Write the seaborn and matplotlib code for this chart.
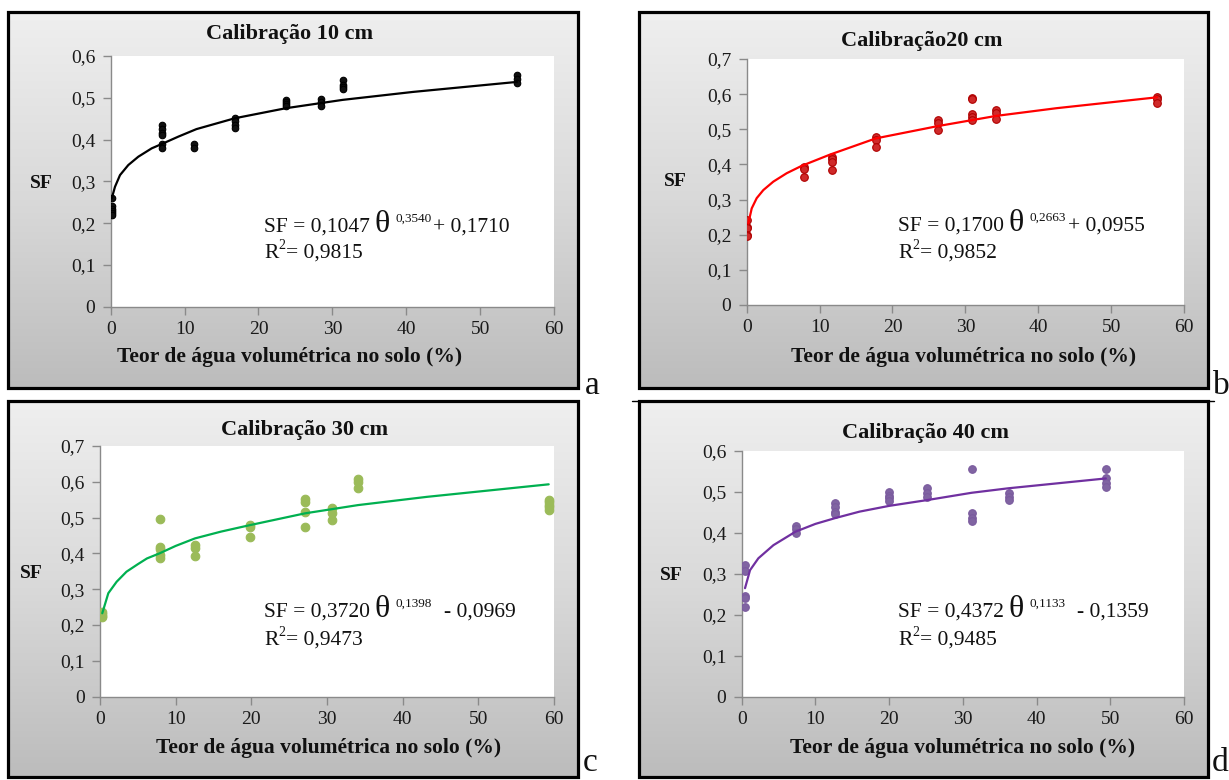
import numpy as np
import pandas as pd
import matplotlib
matplotlib.use("Agg")
import matplotlib.pyplot as plt
import seaborn as sns
from matplotlib.patches import Rectangle
from matplotlib.lines import Line2D
from matplotlib.colors import LinearSegmentedColormap
from matplotlib.ticker import FuncFormatter, MultipleLocator

# ---------------- data ----------------
theta_10 = [0.2, 0.2, 0.2, 0.2, 0.2, 0.2,
            7.0, 7.0, 7.0, 7.0, 7.0, 7.0,
            11.3, 11.3,
            16.8, 16.8, 16.8, 16.8,
            23.7, 23.7, 23.7, 23.7,
            28.4, 28.4, 28.4,
            31.4, 31.4, 31.4, 31.4,
            55.0, 55.0, 55.0]
sf_10 = [0.26, 0.24, 0.235, 0.23, 0.225, 0.22,
         0.435, 0.425, 0.415, 0.41, 0.39, 0.38,
         0.39, 0.38,
         0.452, 0.445, 0.435, 0.428,
         0.495, 0.49, 0.485, 0.48,
         0.498, 0.49, 0.48,
         0.542, 0.53, 0.525, 0.52,
         0.555, 0.545, 0.535]
fit_theta_10 = [0.14, 0.58, 1.26, 2.38, 3.74, 5.55, 7.12, 9.15, 11.6, 16.8, 23.7, 31.4, 40.9, 55.0]
fit_sf_10 = [0.259, 0.287, 0.315, 0.339, 0.359, 0.379, 0.391, 0.407, 0.425, 0.451, 0.475, 0.495, 0.514, 0.538]

theta_20 = [0.1, 0.1, 0.1, 0.1, 0.1,
            7.8, 7.8, 7.8,
            11.7, 11.7, 11.7, 11.7,
            17.7, 17.7, 17.7,
            26.2, 26.2, 26.2,
            30.9, 30.9, 30.9, 30.9, 30.9,
            34.2, 34.2, 34.2,
            56.3, 56.3, 56.3]
sf_20 = [0.242, 0.223, 0.218, 0.2, 0.196,
         0.394, 0.388, 0.365,
         0.42, 0.415, 0.408, 0.384,
         0.479, 0.47, 0.45,
         0.526, 0.519, 0.498,
         0.588, 0.585, 0.544, 0.535, 0.526,
         0.555, 0.546, 0.529,
         0.591, 0.585, 0.574]
fit_theta_20 = [0.22, 0.69, 1.37, 2.28, 3.65, 5.49, 7.55, 11.43, 17.7, 26.2, 34.2, 42.5, 56.3]
fit_sf_20 = [0.232, 0.275, 0.304, 0.327, 0.351, 0.375, 0.396, 0.428, 0.474, 0.509, 0.538, 0.56, 0.591]

theta_30 = [0.3, 0.3, 0.3, 0.3,
            7.9, 7.9, 7.9, 7.9, 7.9,
            12.6, 12.6, 12.6,
            19.8, 19.8, 19.8,
            27.1, 27.1, 27.1, 27.1,
            30.7, 30.7, 30.7,
            34.1, 34.1, 34.1,
            59.3, 59.3, 59.3, 59.3, 59.3]
sf_30 = [0.237, 0.23, 0.225, 0.222,
         0.496, 0.419, 0.412, 0.396, 0.386,
         0.424, 0.414, 0.394,
         0.479, 0.473, 0.447,
         0.552, 0.545, 0.517, 0.475,
         0.526, 0.512, 0.494,
         0.608, 0.6, 0.582,
         0.549, 0.545, 0.535, 0.53, 0.521]
fit_theta_30 = [0.3, 1.1, 2.2, 3.5, 5.0, 6.2, 7.84, 10.0, 12.55, 16.0, 19.8, 27.1, 34.1, 43.2, 59.3]
fit_sf_30 = [0.233, 0.289, 0.321, 0.349, 0.370, 0.386, 0.400, 0.421, 0.442, 0.461, 0.479, 0.512, 0.535, 0.558, 0.593]

theta_40 = [0.5, 0.5, 0.5, 0.5, 0.5,
            7.3, 7.3, 7.3,
            12.7, 12.7, 12.7, 12.7,
            20.0, 20.0, 20.0, 20.0,
            25.1, 25.1, 25.1,
            31.2, 31.2, 31.2, 31.2,
            36.2, 36.2, 36.2,
            49.4, 49.4, 49.4, 49.4]
sf_40 = [0.322, 0.308, 0.247, 0.24, 0.22,
         0.417, 0.409, 0.399,
         0.472, 0.464, 0.452, 0.445,
         0.499, 0.491, 0.485, 0.479,
         0.509, 0.498, 0.488,
         0.556, 0.448, 0.436, 0.43,
         0.497, 0.488, 0.48,
         0.556, 0.533, 0.523, 0.511]
fit_theta_40 = [0.45, 1.13, 2.26, 4.3, 7.3, 10.0, 12.65, 16.0, 20.0, 25.1, 31.2, 36.2, 49.4]
fit_sf_40 = [0.265, 0.309, 0.338, 0.370, 0.403, 0.422, 0.436, 0.452, 0.466, 0.480, 0.498, 0.509, 0.533]

titles = ["Calibração 10 cm", "Calibração20 cm", "Calibração 30 cm", "Calibração 40 cm"]
eq_coef = ["0,1047", "0,1700", "0,3720", "0,4372"]
eq_exp = ["0,3540", "0,2663", "0,1398", "0,1133"]
eq_const = ["+ 0,1710", "+ 0,0955", "- 0,0969", "- 0,1359"]
r2_values = ["0,9815", "0,9852", "0,9473", "0,9485"]
panel_letters = ["a", "b", "c", "d"]
y_max = [0.6, 0.7, 0.7, 0.6]
xlabel = "Teor de água volumétrica no solo (%)"
ylabel = "SF"

# ---------------- styling ----------------
sns.set_theme(style="white")
plt.rcParams["font.family"] = ["Liberation Serif", "DejaVu Serif"]

W, H = 1229, 780
fig = plt.figure(figsize=(W / 100, H / 100), dpi=100)
fig.patch.set_facecolor("white")


def fx(x):
    return x / W


def fy(y):
    return 1 - y / H


def rect(l, t, r, b):
    return [fx(l), fy(b), fx(r) - fx(l), fy(t) - fy(b)]


panels = [
    dict(box=(8, 12, 578, 388), ax=(110.7, 56, 554, 306.7), title=(290, 39), sf=(41, 183),
         xl=(290, 357), eq=(264, 232, 258), letter=(592, 394), gap_const=2,
         theta=theta_10, sf_vals=sf_10, fx_=fit_theta_10, fy_=fit_sf_10,
         mc="#111111", ec="#000000", lc="#000000", s=22),
    dict(box=(639, 12, 1208, 388), ax=(746.7, 59, 1184, 305), title=(922, 46), sf=(675, 182),
         xl=(964, 357), eq=(898, 231, 258), letter=(1221, 394), gap_const=2,
         theta=theta_20, sf_vals=sf_20, fx_=fit_theta_20, fy_=fit_sf_20,
         mc="#cf2a2a", ec="#b00000", lc="#ff0000", s=30),
    dict(box=(8, 401, 578, 777), ax=(100, 446, 554, 696.7), title=(305, 435), sf=(31, 573),
         xl=(329, 748), eq=(264, 617, 645), letter=(590, 771), gap_const=12,
         theta=theta_30, sf_vals=sf_30, fx_=fit_theta_30, fy_=fit_sf_30,
         mc="#9bbb59", ec="#9bbb59", lc="#00b050", s=38),
    dict(box=(639, 401, 1208, 777), ax=(741.7, 451, 1184, 696.7), title=(925, 438), sf=(671, 575),
         xl=(963, 748), eq=(898, 617, 645), letter=(1220, 771), gap_const=12,
         theta=theta_40, sf_vals=sf_40, fx_=fit_theta_40, fy_=fit_sf_40,
         mc="#8064a2", ec="#7a5a9e", lc="#7030a0", s=30),
]

renderer = fig.canvas.get_renderer()


def rich_line(x0, baseline, pieces):
    x = x0
    for s, size, rise, gap in pieces:
        t = fig.text(fx(x), fy(baseline - rise), s, fontsize=size, ha="left", va="baseline",
                     color="#111111")
        bb = t.get_window_extent(renderer)
        x += bb.width + gap


grad = np.linspace(0, 1, 256).reshape(-1, 1)
panel_cmap = LinearSegmentedColormap.from_list("panel", ["#efefef", "#d9d9d9", "#bcbcbc"])
comma = FuncFormatter(lambda v, p: "0" if abs(v) < 1e-9 else f"{v:.1f}".replace(".", ","))
intfmt = FuncFormatter(lambda v, p: f"{v:.0f}")

for i, p in enumerate(panels):
    l, t, r, b = p["box"]
    bg = fig.add_axes(rect(l, t, r, b))
    bg.imshow(grad, aspect="auto", cmap=panel_cmap, vmin=0, vmax=1,
              extent=[0, 1, 0, 1], origin="upper", interpolation="bilinear")
    bg.set_axis_off()
    fig.patches.append(Rectangle((fx(l), fy(b)), fx(r) - fx(l), fy(t) - fy(b),
                                 transform=fig.transFigure, fill=False,
                                 edgecolor="black", linewidth=2.3, zorder=5))

    al, at, ar, ab = p["ax"]
    ax = fig.add_axes(rect(al, at, ar, ab))
    ax.set_facecolor("white")
    df_pts = pd.DataFrame({"theta": p["theta"], "sf": p["sf_vals"]})
    df_fit = pd.DataFrame({"theta": p["fx_"], "sf": p["fy_"]})
    sns.scatterplot(data=df_pts, x="theta", y="sf", ax=ax, color=p["mc"], edgecolor=p["ec"],
                    linewidth=0.8, s=p["s"], zorder=3, legend=False)
    sns.lineplot(data=df_fit, x="theta", y="sf", ax=ax, color=p["lc"], linewidth=1.6,
                 estimator=None, errorbar=None, zorder=4)
    ax.set_xlim(0, 60)
    ax.set_ylim(0, y_max[i])
    ax.xaxis.set_major_locator(MultipleLocator(10))
    ax.yaxis.set_major_locator(MultipleLocator(0.1))
    ax.yaxis.set_major_formatter(comma)
    ax.xaxis.set_major_formatter(intfmt)
    ax.set_xlabel("")
    ax.set_ylabel("")
    for side in ["top", "right"]:
        ax.spines[side].set_visible(False)
    for side in ["left", "bottom"]:
        ax.spines[side].set_color("#8a8a8a")
        ax.spines[side].set_linewidth(1.0)
    ax.tick_params(axis="both", which="major", direction="out", length=6, width=1.0,
                   color="#8a8a8a", labelsize=14, labelcolor="#1a1a1a", pad=4,
                   left=True, bottom=True)
    ax.tick_params(axis="y", pad=5)

    # texts
    tx, ty = p["title"]
    fig.text(fx(tx), fy(ty), titles[i], fontsize=16, fontweight="bold", ha="center",
             va="baseline", color="#111111")
    sx, sy = p["sf"]
    fig.text(fx(sx), fy(sy), ylabel, fontsize=14, fontweight="bold", ha="center",
             va="center", color="#111111")
    xx, xy = p["xl"]
    fig.text(fx(xx), fy(xy), xlabel, fontsize=15.5, fontweight="bold", ha="center",
             va="center", color="#111111")
    lx, ly = p["letter"]
    fig.text(fx(lx), fy(ly), panel_letters[i], fontsize=24, ha="center", va="baseline",
             color="#111111")

    ex, eb1, eb2 = p["eq"]
    rich_line(ex, eb1, [("SF = " + eq_coef[i], 15.5, 0, 5),
                        ("θ", 23, 0, 5),
                        (eq_exp[i], 9.5, 10, p["gap_const"]),
                        (eq_const[i], 15.5, 0, 0)])
    rich_line(ex, eb2, [("R", 15.5, 0, 0),
                        ("2", 10, 9, 1),
                        ("= " + r2_values[i], 15.5, 0, 0)])

# thin rule above panel d, as in the reference
fig.lines.append(Line2D([fx(632), fx(1214)], [fy(401), fy(401)], transform=fig.transFigure,
                        color="black", linewidth=1.0))

fig.savefig("out.png", dpi=100, facecolor="white")
